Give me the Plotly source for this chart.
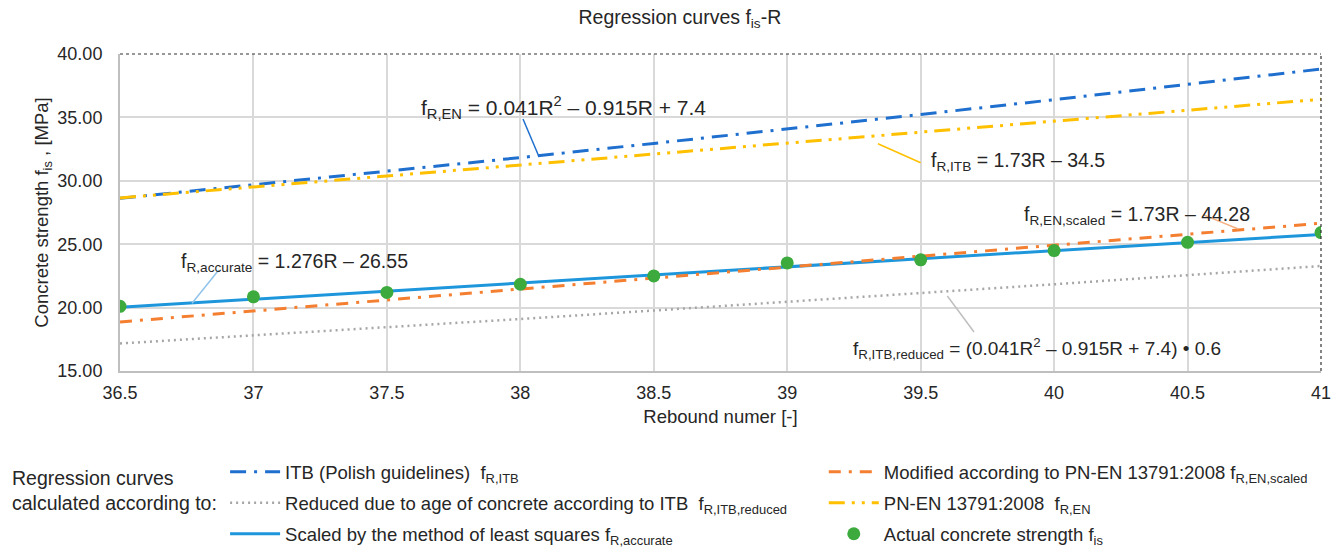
import plotly.graph_objects as go

# ---- data ----
rebound = [36.5, 37, 37.5, 38, 38.5, 39, 39.5, 40, 40.5, 41]
f_itb = [28.62, 29.67, 30.74, 31.83, 32.95, 34.08, 35.23, 36.40, 37.59, 38.81]
f_itb_reduced = [17.17, 17.80, 18.45, 19.10, 19.77, 20.45, 21.14, 21.84, 22.56, 23.28]
f_accurate = [20.02, 20.66, 21.30, 21.94, 22.58, 23.21, 23.85, 24.49, 25.13, 25.77]
f_en_scaled = [18.87, 19.73, 20.60, 21.46, 22.33, 23.19, 24.06, 24.92, 25.79, 26.65]
f_en = [28.65, 29.51, 30.38, 31.24, 32.11, 32.97, 33.84, 34.70, 35.57, 36.43]
f_actual = [20.10, 20.85, 21.20, 21.84, 22.50, 23.52, 23.77, 24.50, 25.15, 25.92]

y_ticks = [15, 20, 25, 30, 35, 40]

FONT = "Liberation Sans, Arial, sans-serif"
TXT = "#262626"

fig = go.Figure()

fig.add_trace(go.Scatter(
    x=rebound, y=f_itb, mode="lines", legend="legend", legendgroup="a",
    name="ITB (Polish guidelines)  f<sub>R,ITB</sub>",
    line=dict(color="#1f6fcf", width=3, dash="16px,8px,3px,8px")))
fig.add_trace(go.Scatter(
    x=rebound, y=f_itb_reduced, mode="lines", legend="legend", legendgroup="b",
    name="Reduced due to age of concrete according to ITB  f<sub>R,ITB,reduced</sub>",
    line=dict(color="#a6a6a6", width=2.5, dash="2px,4px")))
fig.add_trace(go.Scatter(
    x=rebound, y=f_accurate, mode="lines", legend="legend", legendgroup="c",
    name="Scaled by the method of least squares f<sub>R,accurate</sub>",
    line=dict(color="#1e96dc", width=3)))
fig.add_trace(go.Scatter(
    x=rebound, y=f_en_scaled, mode="lines", legend="legend2", legendgroup="d",
    name="Modified according to PN-EN 13791:2008 f<sub>R,EN,scaled</sub>",
    line=dict(color="#f47f30", width=3, dash="12px,8px,3px,8px")))
fig.add_trace(go.Scatter(
    x=rebound, y=f_en, mode="lines", legend="legend2", legendgroup="e",
    name="PN-EN 13791:2008  f<sub>R,EN</sub>",
    line=dict(color="#ffc000", width=3, dash="16px,7px,3px,7px,3px,7px")))
fig.add_trace(go.Scatter(
    x=rebound, y=f_actual, mode="markers", legend="legend2", legendgroup="f",
    name="Actual concrete strength f<sub>is</sub>",
    marker=dict(color="#3caa3c", size=13)))

annotations = [
    dict(x=37.62, y=35.76, size=21, text="f<sub>R,EN</sub> = 0.041R<sup>2</sup> – 0.915R + 7.4"),
    dict(x=39.53, y=31.49, size=19.5, text="f<sub>R,ITB</sub> = 1.73R – 34.5"),
    dict(x=39.88, y=27.23, size=19.5, text="f<sub>R,EN,scaled</sub> = 1.73R – 44.28"),
    dict(x=36.72, y=23.59, size=19.5, text="f<sub>R,accurate</sub> = 1.276R – 26.55"),
    dict(x=39.24, y=16.81, size=19, text="f<sub>R,ITB,reduced</sub> = (0.041R<sup>2</sup> – 0.915R + 7.4) • 0.6"),
]
for a in annotations:
    s = a.pop("size")
    a.update(xref="x", yref="y", xanchor="left", yanchor="middle",
             showarrow=False, font=dict(family=FONT, size=s, color=TXT))
annotations.append(dict(
    xref="paper", yref="paper", x=-0.0916, y=-0.376, xanchor="left", yanchor="middle",
    align="left", showarrow=False, font=dict(family=FONT, size=19.5, color=TXT),
    text="Regression curves<br>calculated according to:"))

leaders = [
    ((38.01, 34.88), (38.07, 31.89), "#1f6fcf"),
    ((39.50, 31.42), (39.34, 32.92), "#ffc000"),
    ((40.56, 27.31), (40.69, 26.20), "#f4b183"),
    ((36.87, 22.96), (36.77, 20.35), "#8fc3ea"),
    ((39.70, 18.07), (39.60, 20.91), "#bfbfbf"),
]
shapes = []
for (x0, y0), (x1, y1), c in leaders:
    shapes.append(dict(type="line", xref="x", yref="y", x0=x0, y0=y0, x1=x1, y1=y1,
                       line=dict(color=c, width=1.5)))
# dotted top/right border
shapes.append(dict(type="line", xref="paper", yref="paper", x0=0, x1=1, y0=1, y1=1,
                   line=dict(color="#333333", width=1.2, dash="dot")))
shapes.append(dict(type="line", xref="paper", yref="paper", x0=1, x1=1, y0=0, y1=1,
                   line=dict(color="#333333", width=1.2, dash="dot")))

leg_common = dict(orientation="v", xanchor="left", yanchor="top",
                  font=dict(family=FONT, size=18.5, color=TXT),
                  bgcolor="rgba(0,0,0,0)", tracegroupgap=4, itemwidth=50)

fig.update_layout(
    width=1341, height=550,
    margin=dict(l=120, r=20, t=54, b=179, autoexpand=False),
    paper_bgcolor="white", plot_bgcolor="white",
    font=dict(family=FONT, size=18, color=TXT),
    title=dict(text="Regression curves f<sub>is</sub>-R", x=0.507, xref="container",
               y=1 - 17 / 550, yref="container", xanchor="center", yanchor="middle",
               font=dict(family=FONT, size=19.5, color=TXT)),
    xaxis=dict(range=[36.5, 41], dtick=0.5, tick0=36.5, showgrid=True,
               gridcolor="#d9d9d9", gridwidth=1.5, showline=True, linecolor="#bfbfbf",
               linewidth=2, zeroline=False, ticks="", ticklabelstandoff=4,
               tickfont=dict(family=FONT, size=18, color=TXT),
               title=dict(text="Rebound numer [-]", standoff=8,
                          font=dict(family=FONT, size=18.5, color=TXT))),
    yaxis=dict(range=[15, 40], tickvals=y_ticks, tickformat=".2f", showgrid=True,
               gridcolor="#d9d9d9", gridwidth=1.5, showline=True, linecolor="#bfbfbf",
               linewidth=2, zeroline=False, ticks="", ticklabelstandoff=12,
               tickfont=dict(family=FONT, size=18, color=TXT),
               title=dict(text="Concrete strength f<sub>is</sub> , [MPa]", standoff=4,
                          font=dict(family=FONT, size=18.5, color=TXT))),
    legend=dict(x=0.0875, y=-0.259, **leg_common),
    legend2=dict(x=0.586, y=-0.259, **leg_common),
    annotations=annotations,
    shapes=shapes,
)

fig.write_html("out.html", config={"displayModeBar": False})
with open("out.html", "r", encoding="utf-8") as fh:
    html = fh.read()
html = html.replace("<body>", '<body style="margin:0;padding:0">', 1)
html = html.replace("<head>", "<head><style>html,body{margin:0;padding:0}</style>", 1)
with open("out.html", "w", encoding="utf-8") as fh:
    fh.write(html)
